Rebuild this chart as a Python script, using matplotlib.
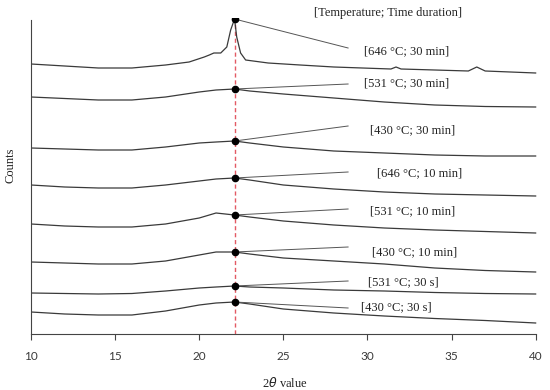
import numpy as np
import matplotlib.pyplot as plt

# XRD patterns, counts are arbitrary offsets
theta = [10, 12, 14, 16, 18, 20, 21, 22.1, 23, 25, 28, 31, 34, 37, 40]

# 646 °C; 30 min has sharp peaks, read on its own grid
theta_646_30 = [10, 12, 14, 16, 18, 19.4, 20.3, 20.6, 20.87, 21.28, 21.64, 21.87,
                22.1, 22.23, 22.46, 22.76, 24.1, 26, 28, 31.4, 31.7, 32.0, 34,
                36.0, 36.5, 37.0, 38.5, 40]
c_646_30 = [270, 268, 266, 266, 269, 272, 277, 279, 281, 281, 287, 304,
            315, 297, 281, 274, 271, 269, 267, 265, 267, 265, 264,
            263, 267, 263, 262, 261]
c_531_30 = [237, 235.5, 234, 234, 237, 242, 244, 245, 243, 240, 236, 232, 229, 227.5, 227]
c_430_30 = [186, 185, 184, 184, 187, 191, 192, 193, 191, 187, 183, 181, 179, 178, 178]
c_646_10 = [149, 147, 146, 146, 149, 153, 155, 156, 154, 149, 145, 142, 140, 139, 138]
c_531_10 = [110, 108, 107, 107, 110, 116, 121, 119, 117, 113, 109, 106, 104, 102.5, 101]
c_430_10 = [72, 71, 70, 70, 73, 79, 82, 82, 80, 76, 73, 70, 66, 63.5, 62]
c_531_s30 = [41, 40.5, 40, 40.5, 43, 46, 47, 48, 47, 46, 44, 43, 41.5, 40.5, 40]
c_430_s30 = [22, 20, 19, 19, 23, 29, 31, 32, 30, 25, 21, 18, 15.5, 13.5, 11]

labels = ['[646 °C; 30 min]', '[531 °C; 30 min]', '[430 °C; 30 min]',
          '[646 °C; 10 min]', '[531 °C; 10 min]', '[430 °C; 10 min]',
          '[531 °C; 30 s]', '[430 °C; 30 s]']
series = [c_646_30, c_531_30, c_430_30, c_646_10, c_531_10, c_430_10, c_531_s30, c_430_s30]
peak_pos = 22.1

# label placement (left edge x, text centre y, leader end y)
label_x = [29.79, 29.8, 30.14, 30.55, 30.14, 30.26, 30.02, 29.6]
label_y = [283, 251, 204, 161, 123, 82, 52, 27]
leader_y = [286, 250, 208, 162, 125, 87, 53, 26]
leader_x = 28.85

plt.rcParams['font.family'] = 'Liberation Serif'

fig = plt.figure(figsize=(5.5, 3.9), dpi=100)
ax = fig.add_axes([31/550, 56/390, 508/550, 316/390])

line_col = '#3a3a3a'
for i, (lab, c) in enumerate(zip(labels, series)):
    x = theta_646_30 if i == 0 else theta
    ax.plot(x, c, color=line_col, linewidth=0.9, zorder=2)
    yp = c[x.index(peak_pos)]
    ax.plot([peak_pos], [yp], 'o', color='black', markersize=4.5, zorder=4)
    ax.plot([peak_pos, leader_x], [yp, leader_y[i]], color='#555555', linewidth=0.7, zorder=3)
    ax.text(label_x[i], label_y[i], lab, fontsize=9,
            va='center', ha='left', color='#222222')

ax.plot([peak_pos, peak_pos], [0, c_646_30[theta_646_30.index(peak_pos)]],
        color='#e35a64', linestyle=(0, (3, 2)), linewidth=1.0, zorder=1)

ax.set_xlim(10, 40.2)
ax.set_ylim(0, 316)
ax.set_xticks([10, 15, 20, 25, 30, 35, 40])
ax.set_yticks([])
for s in ['top', 'right']:
    ax.spines[s].set_visible(False)
ax.spines['bottom'].set_bounds(10, 40)
ax.spines['left'].set_bounds(0, 314)
ax.spines['left'].set_color('#444444')
ax.spines['bottom'].set_color('#444444')
ax.tick_params(axis='x', direction='out', length=4, color='#444444', pad=8)
for t in ax.get_xticklabels():
    t.set_fontfamily('Lato')
    t.set_fontsize(8.5)
    t.set_color('#3a3a3a')

fig.text(388/550, 1 - 13/390, '[Temperature; Time duration]', ha='center', va='center',
         fontsize=9, color='#222222')
fig.text(285/550, 1 - 383/390, r'2$\it{\theta}$ value', ha='center', va='center',
         fontsize=9, color='#222222')
fig.text(11/550, 1 - 165/390, 'Counts', ha='center', va='center', rotation=90,
         fontsize=9, color='#222222')

plt.savefig('out.png', dpi=100)
